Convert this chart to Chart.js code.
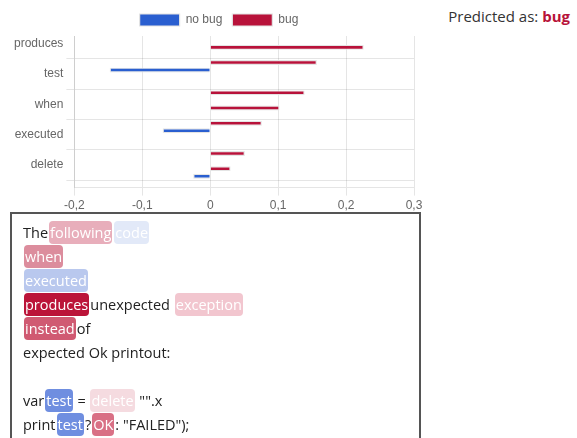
<!DOCTYPE html>
<html>
<head>
<meta charset="utf-8">
<script src="https://cdn.jsdelivr.net/npm/chart.js@4.4.0/dist/chart.umd.min.js"></script>
<style>
  body { margin: 0; background: #fff; font-family: "Open Sans", sans-serif; }
  #chartWrap { position: absolute; left: 0; top: 0; width: 438px; height: 216px; }
  #predicted { position: absolute; right: 7px; top: 6px; font-size: 15px; color: #333; }
  #predicted b { color: #b8123a; }
  #textBox {
    position: absolute; left: 10px; top: 212px; width: 396px; height: 260px;
    border: 2px solid #555; padding: 7px 0 0 11px;
    font-size: 14.5px; line-height: 24px; color: #222;
  }
  .tok { color: #fff; border-radius: 4px; padding: 2px 1px; margin: 0 1px; }
</style>
</head>
<body>
<div id="chartWrap"><canvas id="explainChart" width="438" height="216"></canvas></div>
<div id="predicted">Predicted as: <b>bug</b></div>
<div id="textBox">The<span class="tok" style="background:#e8aebb">following</span><span class="tok" style="background:#e2e9f8">code</span><br><span class="tok" style="background:#dc8d9d">when</span><br><span class="tok" style="background:#b9c8ee">executed</span><br><span class="tok" style="background:#bb1439">produces</span>unexpected <span class="tok" style="background:#f2c6cf">exception</span><br><span class="tok" style="background:#d05a72">instead</span>of<br>expected Ok printout:<br><br>var<span class="tok" style="background:#6f8ee0">test</span> = <span class="tok" style="background:#f5dbe0">delete</span> "".x<br>print<span class="tok" style="background:#6f8ee0">test</span>?<span class="tok" style="background:#d97085">OK</span>: "FAILED");</div>
<script>
// tokens sorted by weight, every other label gets auto-skipped
const tokens = ['produces', 'instead', 'test', 'OK', 'when', 'following', 'executed', 'exception', 'delete', 'code'];
const noBugValues = [null, null, -0.148, null, null, null, -0.070, null, null, -0.025];
const bugValues = [0.226, 0.157, null, 0.139, 0.102, 0.076, null, 0.051, 0.030, null];
const xTicks = { min: -0.2, max: 0.3, step: 0.1 };

document.addEventListener('DOMContentLoaded', function () {
  const ctx = document.getElementById('explainChart').getContext('2d');
  new Chart(ctx, {
    type: 'bar',
    data: {
      labels: tokens,
      datasets: [
        {
          label: 'no bug',
          data: noBugValues,
          backgroundColor: '#2a5fd0',
          borderColor: '#e4e4e4',
          borderWidth: 1.2,
        },
        {
          label: 'bug',
          data: bugValues,
          backgroundColor: '#b8123a',
          borderColor: '#e4e4e4',
          borderWidth: 1.2,
        },
      ],
    },
    options: {
      indexAxis: 'y',
      responsive: false,
      animation: false,
      locale: 'de-DE',
      categoryPercentage: 1,
      barPercentage: 0.65,
      layout: { padding: { top: 4 } },
      plugins: {
        legend: {
          position: 'top',
          labels: { color: '#666', font: { size: 12 } },
        },
        tooltip: { enabled: false },
      },
      scales: {
        x: {
          min: xTicks.min,
          max: xTicks.max,
          ticks: { stepSize: xTicks.step, color: '#666', font: { size: 12 } },
          afterFit: function (scale) {
            scale.paddingRight = 24;
          },
        },
        y: {
          ticks: { color: '#666', font: { size: 12 } },
          afterFit: function (scale) {
            scale.width += 11;
          },
        },
      },
    },
  });
});
</script>
</body>
</html>
